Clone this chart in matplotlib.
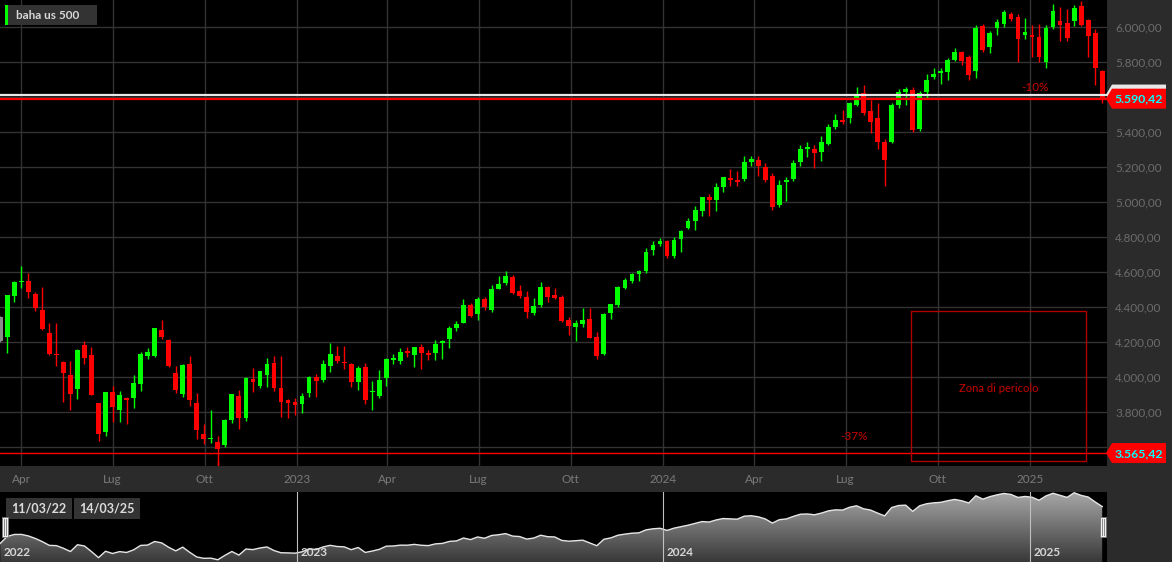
import numpy as np
import pandas as pd
import matplotlib
matplotlib.use('Agg')
import matplotlib.pyplot as plt
import matplotlib.dates as mdates
from matplotlib.patches import Rectangle, Polygon
from matplotlib.transforms import Affine2D, Bbox, blended_transform_factory
from matplotlib.colors import LinearSegmentedColormap

plt.rcParams['font.family'] = ['Lato', 'DejaVu Sans']

# weekly candles (dated on the friday), first one is the grey one cut at the left edge
first_week = '2022-03-11'
opens = [
    4345, 4226, 4462, 4541, 4550, 4474, 4385, 4250, 4130, 4083,
    4010, 3930, 4182, 4123, 3851, 3686, 3913, 3813, 3880, 3882,
    3960, 4121, 4119, 4270, 4212, 4023, 3901, 4075, 3853, 3673,
    3644, 3630, 3610, 3756, 3891, 3767, 3987, 3950, 4011, 4082,
    3935, 3867, 3857, 3847, 3910, 4002, 3983, 4060, 4118, 4080,
    4076, 3970, 4058, 3913, 3893, 3996, 4097, 4091, 4150, 4123,
    4174, 4136, 4136, 4194, 4219, 4282, 4309, 4410, 4358, 4448,
    4384, 4500, 4536, 4573, 4493, 4459, 4368, 4413, 4516, 4470,
    4456, 4328, 4284, 4300, 4333, 4227, 4134, 4366, 4410, 4509,
    4548, 4587, 4604, 4727, 4762, 4775, 4694, 4786, 4853, 4891,
    4951, 5027, 5011, 5086, 5137, 5126, 5130, 5230, 5240, 5198,
    5146, 4983, 5113, 5130, 5227, 5303, 5303, 5288, 5331, 5430,
    5468, 5478, 5554, 5621, 5520, 5478, 5345, 5345, 5554, 5627,
    5640, 5417, 5630, 5712, 5735, 5741, 5811, 5859, 5826, 5749,
    6006, 5884, 5996, 6017, 6076, 6056, 5954, 5954, 5941, 5798,
    6002, 6036, 6025, 6034, 6120, 6040, 5964, 5749]
highs = [
    4350, 4470, 4546, 4637, 4593, 4483, 4512, 4308, 4307, 4090,
    4090, 4158, 4205, 4170, 3851, 3913, 3946, 3918, 3885, 4012,
    4140, 4167, 4280, 4325, 4218, 4062, 4076, 4119, 3907, 3733,
    3810, 3661, 3762, 3905, 3923, 4000, 4050, 4034, 4107, 4120,
    4119, 3877, 3878, 3906, 4003, 4015, 4095, 4195, 4176, 4176,
    4080, 4060, 4078, 3978, 4039, 4110, 4134, 4164, 4170, 4170,
    4186, 4155, 4212, 4213, 4290, 4322, 4448, 4420, 4458, 4456,
    4527, 4578, 4604, 4584, 4527, 4490, 4452, 4541, 4520, 4511,
    4466, 4340, 4327, 4395, 4393, 4256, 4366, 4418, 4520, 4568,
    4595, 4609, 4738, 4778, 4793, 4780, 4798, 4842, 4907, 4975,
    5030, 5048, 5111, 5145, 5190, 5179, 5262, 5265, 5264, 5222,
    5168, 5123, 5141, 5239, 5325, 5341, 5326, 5375, 5447, 5505,
    5523, 5570, 5659, 5669, 5583, 5564, 5358, 5563, 5643, 5655,
    5655, 5636, 5733, 5767, 5765, 5822, 5878, 5863, 5842, 6012,
    6018, 5979, 6044, 6099, 6085, 6076, 6050, 6011, 6017, 6014,
    6131, 6113, 6101, 6127, 6147, 6044, 5986, 5752]
lows = [
    4200, 4135, 4427, 4507, 4450, 4378, 4267, 4124, 4062, 3859,
    3810, 3875, 4073, 3897, 3637, 3660, 3742, 3742, 3729, 3820,
    3918, 4100, 4112, 4216, 4057, 3906, 3887, 3837, 3647, 3619,
    3621, 3492, 3600, 3735, 3704, 3751, 3916, 3936, 3942, 3920,
    3770, 3764, 3783, 3794, 3885, 3885, 3973, 4031, 4079, 4047,
    3943, 3928, 3847, 3810, 3880, 3951, 4073, 4075, 4114, 4057,
    4048, 4099, 4099, 4103, 4166, 4262, 4306, 4340, 4327, 4385,
    4372, 4500, 4528, 4474, 4449, 4335, 4356, 4400, 4431, 4445,
    4317, 4238, 4203, 4284, 4223, 4104, 4127, 4329, 4401, 4505,
    4537, 4547, 4593, 4695, 4751, 4682, 4682, 4714, 4845, 4842,
    4918, 4920, 4946, 5057, 5094, 5091, 5120, 5204, 5147, 5114,
    4954, 4970, 5007, 5120, 5204, 5256, 5193, 5234, 5326, 5420,
    5447, 5452, 5546, 5497, 5392, 5301, 5091, 5335, 5540, 5554,
    5402, 5406, 5586, 5703, 5674, 5696, 5804, 5784, 5696, 5707,
    5855, 5853, 5956, 6000, 6032, 5798, 5932, 5830, 5802, 5764,
    5987, 5920, 5922, 6003, 6008, 5830, 5669, 5566]
closes = [
    4208, 4468, 4543, 4545, 4488, 4392, 4272, 4132, 4123, 4024,
    3901, 4157, 4109, 3899, 3672, 3912, 3827, 3899, 3866, 3965,
    4131, 4145, 4279, 4226, 4060, 3926, 4067, 3870, 3697, 3646,
    3653, 3591, 3756, 3903, 3767, 3996, 3973, 4034, 4074, 3939,
    3855, 3850, 3840, 3891, 4002, 3977, 4074, 4134, 4090, 4078,
    3971, 4053, 3867, 3920, 3983, 4103, 4110, 4141, 4139, 4170,
    4136, 4124, 4189, 4207, 4282, 4300, 4410, 4349, 4448, 4400,
    4504, 4533, 4575, 4482, 4464, 4370, 4406, 4514, 4459, 4449,
    4319, 4290, 4307, 4327, 4224, 4119, 4362, 4415, 4514, 4555,
    4590, 4604, 4714, 4756, 4775, 4694, 4780, 4837, 4891, 4957,
    5027, 5009, 5088, 5141, 5128, 5116, 5230, 5246, 5206, 5126,
    4970, 5097, 5126, 5221, 5303, 5312, 5282, 5345, 5430, 5468,
    5459, 5564, 5620, 5507, 5459, 5345, 5240, 5554, 5630, 5644,
    5411, 5621, 5697, 5731, 5749, 5811, 5859, 5807, 5726, 5996,
    5869, 5964, 6030, 6084, 6046, 5934, 5970, 5942, 5827, 5992,
    6091, 6011, 5935, 6110, 6011, 5949, 5764, 5590.42]

white_level = 5614
low_level = 3565.42
y_ticks = [3600, 3800, 4000, 4200, 4400, 4600, 4800, 5000, 5200, 5400, 5600, 5800, 6000]
x_tick_dates = ['2022-04-01', '2022-07-01', '2022-10-01', '2023-01-01', '2023-04-01', '2023-07-01',
                '2023-10-01', '2024-01-01', '2024-04-01', '2024-07-01', '2024-10-01', '2025-01-01']
x_tick_labels = ['Apr', 'Lug', 'Ott', '2023', 'Apr', 'Lug', 'Ott', '2024', 'Apr', 'Lug', 'Ott', '2025']
nav_years = ['2023-01-01', '2024-01-01', '2025-01-01']
nav_year_labels = ['2022', '2023', '2024', '2025']

W, H = 1172, 562
fig = plt.figure(figsize=(W / 100, H / 100), dpi=100, facecolor='#2b2b2b')
px = Affine2D().scale(1 / W, -1 / H).translate(0, 1) + fig.transFigure

weeks = pd.date_range(first_week, periods=len(closes), freq='7D')
xs = mdates.date2num(weeks)
O = np.array(opens, float)
Hh = np.array(highs, float)
L = np.array(lows, float)
C = np.array(closes, float)

x0 = mdates.date2num(pd.Timestamp('2022-03-10 18:00'))
x1 = mdates.date2num(pd.Timestamp('2025-03-18 19:00'))

# ---- main chart
ax = fig.add_axes([0, 96 / H, 1107 / W, 466 / H], facecolor='black')
ax.set_xlim(x0, x1)
ax.set_ylim(3491.4, 6154.3)
for s in ax.spines.values():
    s.set_visible(False)
ax.set_axisbelow(True)
ax.grid(True, color='#333333', lw=1)

cols = np.where(C >= O, '#00ff00', '#ff0000').astype(object)
cols[0] = '#8a8a8a'
ax.vlines(xs, L, Hh, colors=list(cols), lw=1, zorder=2)
ax.bar(xs, np.maximum(np.abs(C - O), 6), bottom=np.minimum(O, C), width=4.8,
       color=list(cols), linewidth=0, zorder=3)

ax.axhline(white_level, color='#e8e8e8', lw=1.6, zorder=4)
ax.axhline(closes[-1], color='#ff0000', lw=1.6, zorder=4)
ax.axhline(low_level, color='#ff0000', lw=1, zorder=4)
ax.plot([xs[31], xs[31]], [3491.4, 3520], color='#ff0000', lw=1, zorder=4)

# danger zone
zx0 = mdates.date2num(pd.Timestamp('2024-09-04'))
zx1 = mdates.date2num(pd.Timestamp('2025-02-26'))
ax.add_patch(Rectangle((zx0, 3520), zx1 - zx0, 4377 - 3520, fill=False,
                       edgecolor='#b00000', lw=1, zorder=5))
ax.text((zx0 + zx1) / 2, 3935, 'Zona di pericolo', color='#c80000', fontsize=8,
        ha='center', va='center', zorder=5)
ax.text(mdates.date2num(pd.Timestamp('2024-07-09')), 3660, '-37%', color='#c80000',
        fontsize=8.5, ha='center', va='center', zorder=5)
ax.text(mdates.date2num(pd.Timestamp('2025-01-06')), 5657, '-10%', color='#c80000',
        fontsize=8.5, ha='center', va='center', zorder=5)

def it_fmt(v):
    return f"{v:,.2f}".replace(',', 'X').replace('.', ',').replace('X', '.')

ax.yaxis.tick_right()
ax.set_yticks(y_ticks)
ax.set_yticklabels([it_fmt(v) for v in y_ticks])
ax.tick_params(axis='y', length=0, pad=6, labelcolor='#6c6c6c', labelsize=8.5)
ax.set_xticks(mdates.date2num(pd.to_datetime(x_tick_dates)))
ax.set_xticklabels(x_tick_labels)
ax.tick_params(axis='x', length=0, pad=6, labelcolor='#7a7a7a', labelsize=8.5)

# title tag
fig.patches.append(Rectangle((5, 5), 92, 20, transform=px, facecolor='#333333', edgecolor='none'))
fig.patches.append(Rectangle((5, 5), 2.5, 20, transform=px, facecolor='#00ff00', edgecolor='none'))
fig.text(16, 15.5, 'baha us 500', transform=px, color='#d8d8d8', fontsize=8.5,
         fontweight='bold', va='center', ha='left')

# price labels on the right
def ypx(v):
    return H - ax.transData.transform((x0, v))[1]

def price_tag(v, face, text=None):
    cy = ypx(v)
    pts = [(1106, cy), (1112, cy - 10), (1166, cy - 10), (1166, cy + 10), (1112, cy + 10)]
    fig.patches.append(Polygon(pts, closed=True, transform=px, facecolor=face, edgecolor='none', zorder=5))
    if text:
        fig.text(1139, cy + 0.5, text, transform=px, color='#00ffff', fontsize=8.8,
                 fontweight='bold', ha='center', va='center', zorder=6)

price_tag(white_level, '#e8e8e8')
price_tag(closes[-1], '#ff0000', it_fmt(closes[-1]))
price_tag(low_level, '#ff0000', it_fmt(low_level))

# the 3.600,00 tick label only peeks out above the low tag
low_top = H - (ypx(low_level) - 10)
for t in ax.get_yticklabels():
    if t.get_text() == it_fmt(3600):
        t.set_clip_box(Bbox([[1107, low_top], [W, H]]))
        t.set_clip_on(True)

# ---- navigator
nav = fig.add_axes([0, 0, 1107 / W, 70 / H], facecolor='black')
for s in nav.spines.values():
    s.set_visible(False)
nav.set_xticks([])
nav.set_yticks([])
ny0, ny1 = 3508, 6138
verts = [(xs[0], ny0)] + list(zip(xs, C)) + [(xs[-1], ny0)]
area = Polygon(verts, closed=True, facecolor='none', edgecolor='none')
nav.add_patch(area)
grad = np.linspace(0, 1, 256).reshape(-1, 1)
cmap = LinearSegmentedColormap.from_list('nav', ['#383838', '#a8a8a8'])
im = nav.imshow(grad, extent=[x0, x1, ny0, ny1], origin='lower', aspect='auto', cmap=cmap, zorder=1)
im.set_clip_path(area)
nav.plot(xs, C, color='#e6e6e6', lw=1, zorder=2)
nav.set_xlim(x0, x1)
nav.set_ylim(ny0, ny1)
bt = blended_transform_factory(nav.transData, nav.transAxes)
for d in nav_years:
    nav.axvline(mdates.date2num(pd.Timestamp(d)), color='#c0c0c0', lw=0.8, zorder=3)
year_x = [xs[0] + 3] + [mdates.date2num(pd.Timestamp(d)) + 4 for d in nav_years]
for xv, lab in zip(year_x, nav_year_labels):
    nav.text(xv, 0.13, lab, transform=bt, color='#d6d6d6', fontsize=8.5, fontweight='bold',
             ha='left', va='center', zorder=4)

# date range boxes
for bx, lab in [(6, '11/03/22'), (74, '14/03/25')]:
    fig.patches.append(Rectangle((bx, 498), 66, 21, transform=px, facecolor='#333333', edgecolor='none', zorder=5))
    fig.text(bx + 33, 508.5, lab, transform=px, color='#dcdcdc', fontsize=9, fontweight='bold',
             ha='center', va='center', zorder=6)

# navigator handles
for hx in [2, 1100]:
    fig.patches.append(Rectangle((hx, 517), 6, 20, transform=px, facecolor='#f0f0f0', edgecolor='#777777', lw=0.6, zorder=5))
    for lx in [hx + 2, hx + 4]:
        fig.lines.append(plt.Line2D([lx, lx], [519, 535], transform=px, color='#777777', lw=0.6, zorder=6))

fig.savefig('out.png', dpi=100, facecolor=fig.get_facecolor())
